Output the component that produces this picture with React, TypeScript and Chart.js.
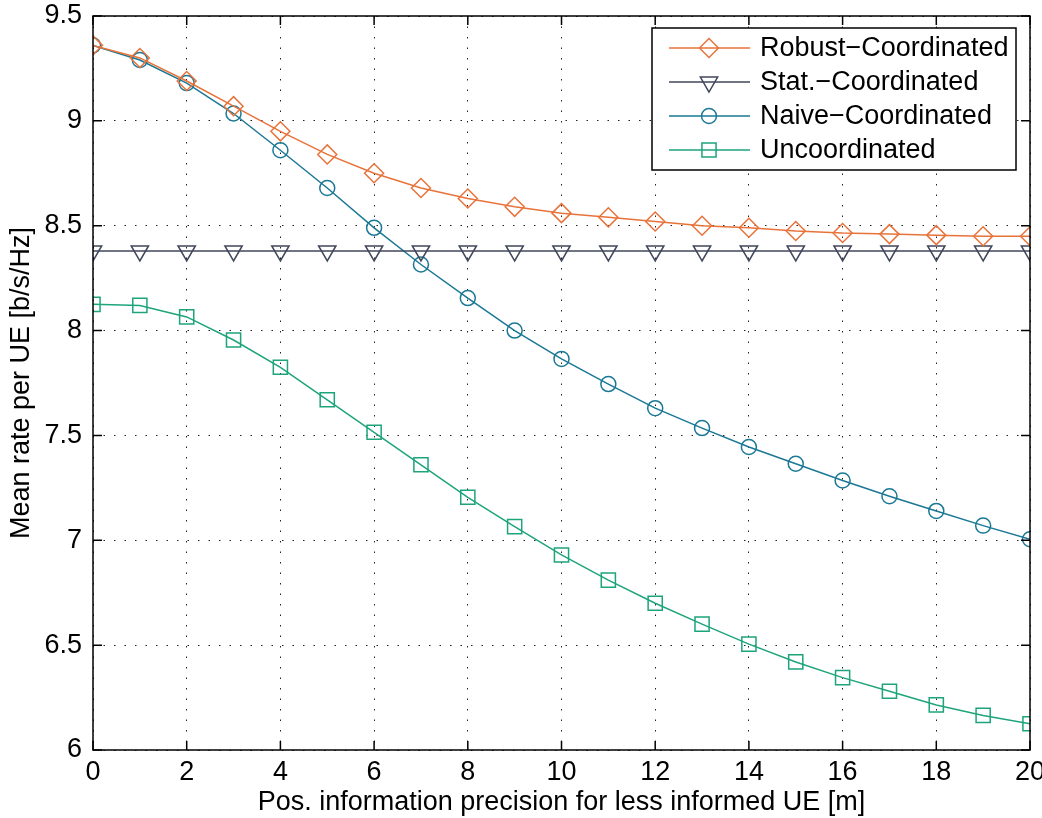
import React, { useEffect, useRef } from "react";
import { Chart, registerables } from "chart.js";
import { drawPoint } from "chart.js/helpers";

Chart.register(...registerables);

const precision = [0, 1, 2, 3, 4, 5, 6, 7, 8, 9, 10, 11, 12, 13, 14, 15, 16, 17, 18, 19, 20];
const robustCoordinated = [9.36, 9.3, 9.19, 9.07, 8.95, 8.84, 8.75, 8.68, 8.63, 8.59, 8.56, 8.54, 8.52, 8.5, 8.49, 8.475, 8.465, 8.46, 8.455, 8.45, 8.45];
const statCoordinated = [8.38, 8.38, 8.38, 8.38, 8.38, 8.38, 8.38, 8.38, 8.38, 8.38, 8.38, 8.38, 8.38, 8.38, 8.38, 8.38, 8.38, 8.38, 8.38, 8.38, 8.38];
const naiveCoordinated = [9.36, 9.29, 9.18, 9.035, 8.86, 8.68, 8.49, 8.315, 8.155, 8.0, 7.865, 7.745, 7.63, 7.535, 7.445, 7.365, 7.285, 7.21, 7.14, 7.07, 7.005];
const uncoordinated = [8.125, 8.12, 8.065, 7.955, 7.825, 7.67, 7.515, 7.36, 7.205, 7.065, 6.93, 6.81, 6.7, 6.6, 6.505, 6.42, 6.345, 6.28, 6.215, 6.165, 6.125];
const xTicks = [0, 2, 4, 6, 8, 10, 12, 14, 16, 18, 20];
const yTicks = [6, 6.5, 7, 7.5, 8, 8.5, 9, 9.5];
const seriesNames = ["Robust\u2212Coordinated", "Stat.\u2212Coordinated", "Naive\u2212Coordinated", "Uncoordinated"];
const xTitle = "Pos. information precision for less informed UE [m]";
const yTitle = "Mean rate per UE [b/s/Hz]";

const FONT = '"Liberation Sans", Arial, sans-serif';
const FONT_SIZE = 27;

const toPoints = (ys: number[]) => ys.map((y, i) => ({ x: precision[i], y }));

const framePlugin = {
  id: "matlabFrame",
  afterDraw(chart: any) {
    const { ctx, chartArea } = chart;
    const { left, right, top, bottom } = chartArea;
    const xs = chart.scales.x;
    const ys = chart.scales.y;
    ctx.save();
    ctx.strokeStyle = "#000";
    ctx.lineWidth = 1.5;
    ctx.strokeRect(left, top, right - left, bottom - top);
    const tl = 9;
    ctx.beginPath();
    xTicks.forEach((v) => {
      const px = xs.getPixelForValue(v);
      ctx.moveTo(px, bottom);
      ctx.lineTo(px, bottom - tl);
      ctx.moveTo(px, top);
      ctx.lineTo(px, top + tl);
    });
    yTicks.forEach((v) => {
      const py = ys.getPixelForValue(v);
      ctx.moveTo(left, py);
      ctx.lineTo(left + tl, py);
      ctx.moveTo(right, py);
      ctx.lineTo(right - tl, py);
    });
    ctx.stroke();

    // axis titles
    ctx.fillStyle = "#000";
    ctx.font = `${FONT_SIZE}px ${FONT}`;
    ctx.textAlign = "center";
    ctx.textBaseline = "middle";
    ctx.fillText(xTitle, (left + right) / 2, 803);
    ctx.save();
    ctx.translate(22, (top + bottom) / 2);
    ctx.rotate(-Math.PI / 2);
    ctx.fillText(yTitle, 0, 0);
    ctx.restore();

    // legend
    const bx = 652, by = 28, bw = 364, bh = 142;
    ctx.fillStyle = "#fff";
    ctx.fillRect(bx, by, bw, bh);
    ctx.lineWidth = 1.5;
    ctx.strokeStyle = "#000";
    ctx.strokeRect(bx, by, bw, bh);
    chart.data.datasets.forEach((ds: any, i: number) => {
      const cy = 48 + i * 34;
      ctx.strokeStyle = ds.borderColor;
      ctx.lineWidth = ds.borderWidth;
      ctx.beginPath();
      ctx.moveTo(669, cy);
      ctx.lineTo(750, cy);
      ctx.stroke();
      ctx.fillStyle = "rgba(0,0,0,0)";
      ctx.strokeStyle = ds.pointBorderColor;
      ctx.lineWidth = ds.pointBorderWidth;
      drawPoint(ctx, {
        pointStyle: ds.pointStyle,
        radius: ds.pointRadius,
        rotation: ds.pointRotation || 0,
        borderWidth: ds.pointBorderWidth,
      } as any, 709, cy);
      ctx.fillStyle = "#000";
      ctx.textAlign = "left";
      ctx.textBaseline = "middle";
      ctx.font = `${FONT_SIZE}px ${FONT}`;
      ctx.fillText(ds.label, 760, cy + 1);
    });
    ctx.restore();
  },
};

function makeDataset(label: string, data: number[], color: string, style: string, radius: number, rotation = 0) {
  return {
    label,
    data: toPoints(data),
    borderColor: color,
    borderWidth: 1.5,
    pointStyle: style,
    pointRadius: radius,
    pointRotation: rotation,
    pointBorderColor: color,
    pointBorderWidth: 1.5,
    pointBackgroundColor: "rgba(0,0,0,0)",
    fill: false,
    tension: 0,
  };
}

export default function App() {
  const ref = useRef<HTMLCanvasElement | null>(null);
  useEffect(() => {
    if (!ref.current) return;
    const tickFont = { family: FONT, size: FONT_SIZE };
    const chart = new Chart(ref.current, {
      type: "line",
      data: {
        datasets: [
          makeDataset(seriesNames[0], robustCoordinated, "#E8733A", "rectRot", 9.5),
          makeDataset(seriesNames[1], statCoordinated, "#40465A", "triangle", 10, 180),
          makeDataset(seriesNames[2], naiveCoordinated, "#1B7895", "circle", 7.5),
          makeDataset(seriesNames[3], uncoordinated, "#1EA47B", "rect", 10),
        ] as any,
      },
      options: {
        animation: false,
        responsive: false,
        maintainAspectRatio: false,
        layout: { padding: { left: 0, right: 12, top: 16, bottom: 0 } },
        plugins: { legend: { display: false }, tooltip: { enabled: false } },
        scales: {
          x: {
            type: "linear",
            min: 0,
            max: 20,
            afterBuildTicks: (s: any) => {
              s.ticks = xTicks.map((v) => ({ value: v }));
            },
            afterFit: (s: any) => {
              s.height = 68;
              s.paddingLeft = 0;
              s.paddingRight = 0;
            },
            grid: { color: "#222", lineWidth: 1, drawTicks: false },
            border: { display: false, dash: [1.5, 9] },
            ticks: { font: tickFont, color: "#000", padding: 6, maxRotation: 0, autoSkip: false, callback: (v: any) => String(v) },
          },
          y: {
            type: "linear",
            min: 6,
            max: 9.5,
            afterBuildTicks: (s: any) => {
              s.ticks = yTicks.map((v) => ({ value: v }));
            },
            afterFit: (s: any) => {
              s.width = 93;
              s.paddingTop = 0;
              s.paddingBottom = 0;
            },
            grid: { color: "#222", lineWidth: 1, drawTicks: false },
            border: { display: false, dash: [1.5, 9] },
            ticks: { font: tickFont, color: "#000", padding: 11, autoSkip: false, callback: (v: any) => String(v) },
          },
        },
      },
      plugins: [framePlugin],
    });
    return () => chart.destroy();
  }, []);
  return (
    <div style={{ position: "fixed", left: 0, top: 0, width: 1042, height: 818, background: "#fff" }}>
      <canvas ref={ref} width={1042} height={818} style={{ width: 1042, height: 818 }} />
    </div>
  );
}
